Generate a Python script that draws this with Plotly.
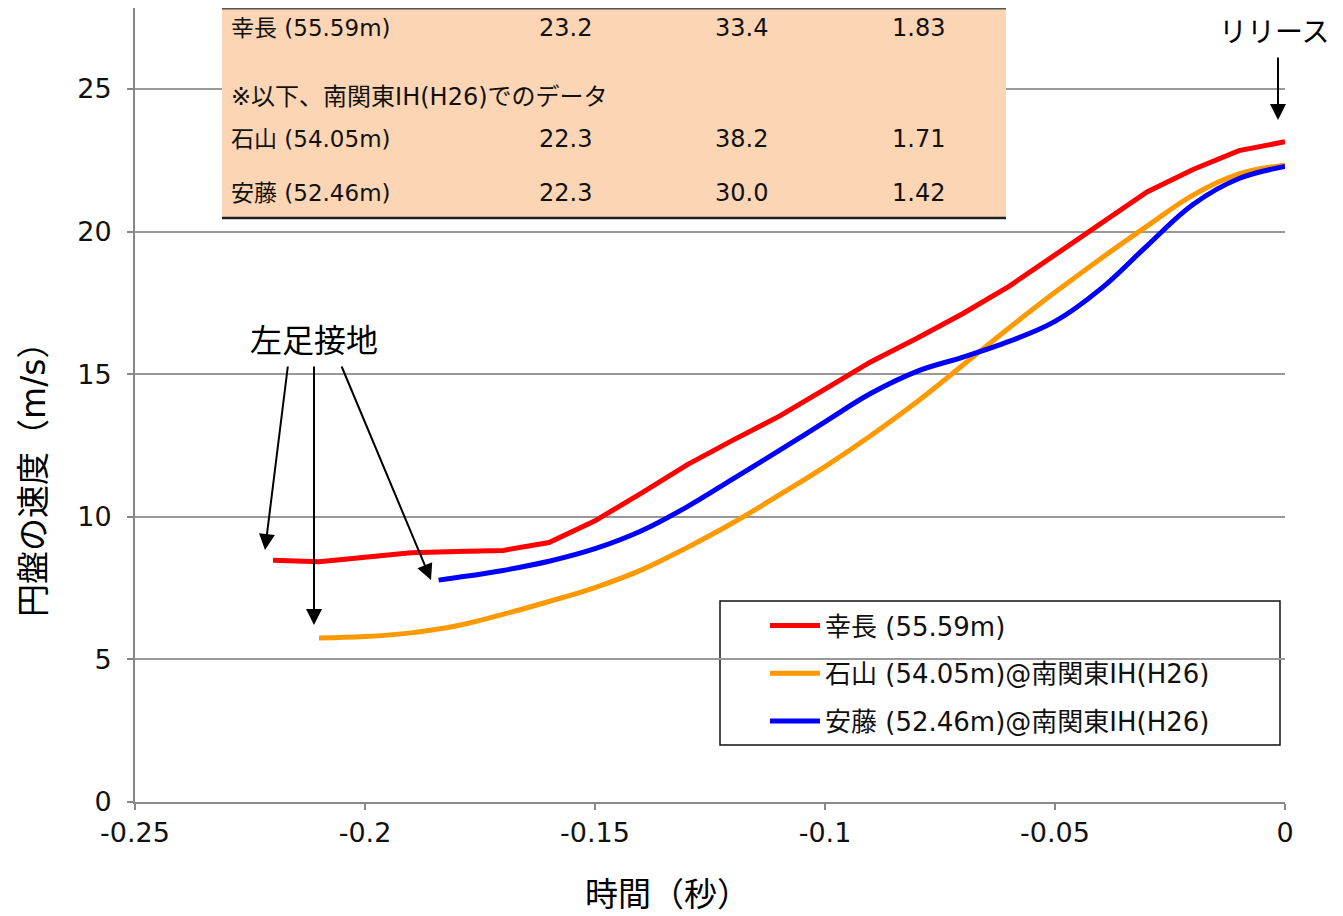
import plotly.graph_objects as go

# ---- data ----
t_yukinaga = [-0.22, -0.21, -0.20, -0.19, -0.18, -0.17, -0.16, -0.15, -0.14, -0.13, -0.12,
              -0.11, -0.10, -0.09, -0.08, -0.07, -0.06, -0.05, -0.04, -0.03, -0.02, -0.01, 0.0]
v_yukinaga = [8.48, 8.42, 8.58, 8.74, 8.78, 8.82, 9.10, 9.86, 10.82, 11.82, 12.69,
              13.52, 14.48, 15.44, 16.26, 17.13, 18.08, 19.19, 20.30, 21.39, 22.18, 22.84, 23.15]

t_ishiyama = [-0.21, -0.20, -0.19, -0.18, -0.17, -0.16, -0.15, -0.14, -0.13, -0.12, -0.11,
              -0.10, -0.09, -0.08, -0.07, -0.06, -0.05, -0.04, -0.03, -0.02, -0.01, 0.0]
v_ishiyama = [5.75, 5.80, 5.93, 6.18, 6.58, 7.03, 7.52, 8.13, 8.92, 9.79, 10.76,
              11.76, 12.85, 14.03, 15.32, 16.62, 17.87, 19.06, 20.19, 21.28, 22.02, 22.33]

t_ando = [-0.184, -0.18, -0.17, -0.16, -0.15, -0.14, -0.13, -0.12, -0.11, -0.10,
          -0.09, -0.08, -0.07, -0.06, -0.05, -0.04, -0.03, -0.02, -0.01, 0.0]
v_ando = [7.78, 7.87, 8.12, 8.44, 8.88, 9.50, 10.35, 11.33, 12.32, 13.33,
          14.33, 15.10, 15.60, 16.15, 16.85, 18.00, 19.50, 20.95, 21.86, 22.28]

series_names = ["幸長 (55.59m)", "石山 (54.05m)@南関東IH(H26)", "安藤 (52.46m)@南関東IH(H26)"]
series_colors = ["#FF0000", "#FF9900", "#0000FF"]

x_ticks = [-0.25, -0.2, -0.15, -0.1, -0.05, 0]
x_ticklabels = ["-0.25", "-0.2", "-0.15", "-0.1", "-0.05", "0"]
y_ticks = [0, 5, 10, 15, 20, 25]

table_names = ["幸長 (55.59m)", "石山 (54.05m)", "安藤 (52.46m)"]
table_col1 = ["23.2", "22.3", "22.3"]
table_col2 = ["33.4", "38.2", "30.0"]
table_col3 = ["1.83", "1.71", "1.42"]
table_note = "※以下、南関東IH(H26)でのデータ"

FONT = "DejaVu Sans, Noto Sans CJK JP"
CJK = "Noto Sans CJK JP"

fig = go.Figure()
line_shapes = ["linear", "spline", "spline"]
for (tx, vy), name, col, sh in zip([(t_yukinaga, v_yukinaga), (t_ishiyama, v_ishiyama), (t_ando, v_ando)],
                                   series_names, series_colors, line_shapes):
    fig.add_trace(go.Scatter(x=tx, y=vy, mode="lines", name=name,
                             line=dict(color=col, width=5, shape=sh, smoothing=1.1),
                             legendgroup=name))

# page pixel -> paper helpers (plot area on page: x 135..1285, y 8..802; figure sits at page offset 8,8)
def px(xp):
    return (xp - 135) / 1150.0
def py(yp):
    return (802 - yp) / 794.0

shapes = []
annotations = []

# Table box
shapes.append(dict(type="rect", xref="paper", yref="paper", x0=px(222), x1=px(1006), y0=py(218), y1=py(8),
                   fillcolor="#FCD5B4", line=dict(width=0), layer="above"))
shapes.append(dict(type="line", xref="paper", yref="paper", x0=px(222), x1=px(1006), y0=py(218), y1=py(218),
                   line=dict(color="#222222", width=2.5), layer="above"))
shapes.append(dict(type="line", xref="paper", yref="paper", x0=px(222), x1=px(1006), y0=py(8.7), y1=py(8.7),
                   line=dict(color="#555555", width=1.5), layer="above"))

row_y = [28, 139, 193]
for i in range(3):
    annotations.append(dict(xref="paper", yref="paper", x=px(229), y=py(row_y[i]), text=table_names[i],
                            showarrow=False, xanchor="left", yanchor="middle",
                            font=dict(family=FONT, size=23, color="#111111")))
    for xc, vals in zip([565, 741, 918], [table_col1, table_col2, table_col3]):
        annotations.append(dict(xref="paper", yref="paper", x=px(xc), y=py(row_y[i]), text=vals[i],
                                showarrow=False, xanchor="center", yanchor="middle",
                                font=dict(family=FONT, size=24, color="#111111")))
annotations.append(dict(xref="paper", yref="paper", x=px(229), y=py(97), text=table_note,
                        showarrow=False, xanchor="left", yanchor="middle",
                        font=dict(family=FONT, size=24, color="#111111")))

# Legend box
shapes.append(dict(type="rect", xref="paper", yref="paper", x0=px(720), x1=px(1280), y0=py(745), y1=py(601),
                   fillcolor="white", line=dict(color="#111111", width=1.5), layer="below"))

# 左足接地
annotations.append(dict(xref="paper", yref="paper", x=px(314), y=py(338), text="左足接地", showarrow=False,
                        xanchor="center", yanchor="middle", font=dict(family=CJK, size=32, color="black")))
arrows = [((265, 550), (288, 365)), ((314, 625), (314, 365)), ((431, 580), (341, 365))]
for (hx, hy), (tx_, ty_) in arrows:
    annotations.append(dict(xref="paper", yref="paper", x=px(hx), y=py(hy), ax=tx_ - hx, ay=ty_ - hy,
                            text="", showarrow=True, arrowhead=2, arrowsize=1.6, arrowwidth=2,
                            arrowcolor="black", standoff=0))
# リリース
annotations.append(dict(xref="paper", yref="paper", x=px(1274), y=py(30), text="リリース", showarrow=False,
                        xanchor="center", yanchor="middle", font=dict(family=CJK, size=28, color="black")))
annotations.append(dict(xref="paper", yref="paper", x=px(1278), y=py(120), ax=0, ay=-64,
                        text="", showarrow=True, arrowhead=2, arrowsize=1.6, arrowwidth=2,
                        arrowcolor="black", standoff=0))

# Axis titles
annotations.append(dict(xref="paper", yref="paper", x=px(667), y=py(892), text="時間（秒）", showarrow=False,
                        xanchor="center", yanchor="middle", font=dict(family=CJK, size=33, color="black")))
annotations.append(dict(xref="paper", yref="paper", x=px(33), y=py(472), text="円盤の速度（m/s）", showarrow=False,
                        xanchor="center", yanchor="middle", textangle=-90,
                        font=dict(family=FONT, size=33, color="black")))

fig.update_layout(
    width=1335, height=908,
    margin=dict(l=127, r=58, t=0, b=114, autoexpand=False),
    paper_bgcolor="white", plot_bgcolor="white",
    font=dict(family=FONT, color="black"),
    showlegend=True,
    legend=dict(x=px(765), y=py(602), xanchor="left", yanchor="top",
                bgcolor="rgba(0,0,0,0)", borderwidth=0,
                font=dict(family=FONT, size=26, color="#111111"),
                tracegroupgap=11, itemwidth=50),
    shapes=shapes, annotations=annotations,
)
fig.update_xaxes(range=[-0.25, 0], tickvals=x_ticks, ticktext=x_ticklabels,
                 showgrid=False, zeroline=False, showline=True, linecolor="#888888", linewidth=2,
                 ticks="outside", ticklen=6, tickcolor="#888888", tickwidth=1.5,
                 tickfont=dict(family=FONT, size=27, color="#111111"))
fig.update_yaxes(range=[0, 794 / 28.52], tickvals=y_ticks, showgrid=True, gridcolor="#999999", gridwidth=1.5,
                 zeroline=False, showline=True, linecolor="#888888", linewidth=2,
                 ticks="outside", ticklen=6, tickcolor="#888888", tickwidth=1.5,
                 ticklabelstandoff=10,
                 tickfont=dict(family=FONT, size=27, color="#111111"))

fig.write_html("out.html")
